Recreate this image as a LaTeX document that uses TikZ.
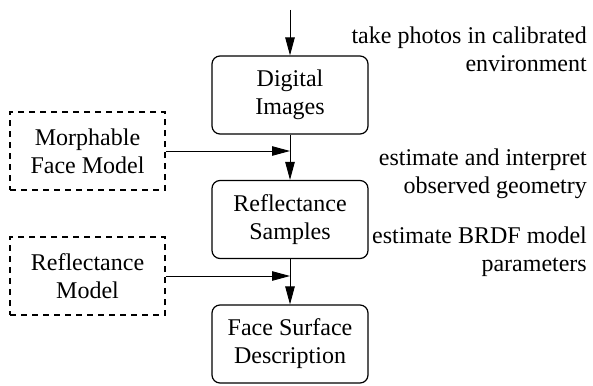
\documentclass[tikz,border=0pt]{standalone}
\usepackage{fontspec}
\setmainfont{Liberation Serif}
\usetikzlibrary{arrows.meta}
\tikzset{
	stagebox/.style={draw, line width=1.2pt, rounded corners=8pt, minimum width=156pt, minimum height=78pt, align=center},
	inputbox/.style={draw, line width=1.2pt, dash pattern=on 6pt off 5pt, minimum width=155pt, minimum height=78pt, align=center},
	flow/.style={-{Triangle[length=18pt,width=9.5pt]}, line width=0.9pt},
	note/.style={anchor=east, align=right, inner sep=0pt}
}
\begin{document}
\begin{tikzpicture}[x=1pt, y=-1pt, font=\rmfamily\fontsize{24}{28}\selectfont]
		\useasboundingbox (0,0) rectangle (593,385);
		\coordinate (start) at (290,10);
		\node[stagebox] (img) at (290,95) {Digital\\Images};
		\node[stagebox] (smp) at (290,219.5) {Reflectance\\Samples};
		\node[stagebox] (desc) at (290,344) {Face Surface\\Description};
		\node[inputbox] (face) at (87.5,151) {Morphable\\Face Model};
		\node[inputbox] (refl) at (87.5,276) {Reflectance\\Model};
		\draw[flow] (start) -- (img);
		\draw[flow] (img) -- (smp);
		\draw[flow] (smp) -- (desc);
		\draw[flow] (face.east) -- (face.east -| img.south);
		\draw[flow] (refl.east) -- (refl.east -| smp.south);
		\node[note] (n1) at (587,49) {take photos in calibrated\\environment};
		\node[note] (n2) at (587,174) {estimate and interpret\\observed geometry};
		\node[note] (n3) at (587,252) {estimate BRDF model\\parameters};
	\end{tikzpicture}
\end{document}
